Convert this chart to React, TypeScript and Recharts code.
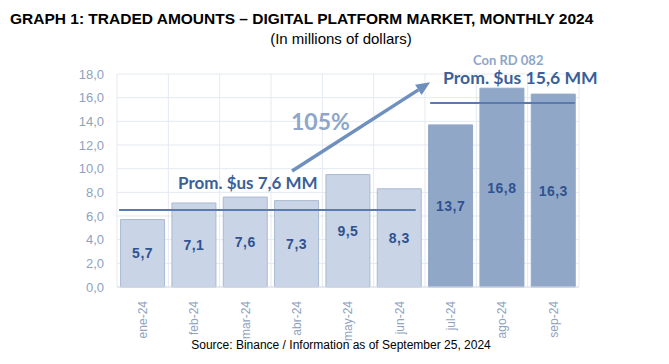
import React from 'react';
import { ComposedChart, Bar, XAxis, YAxis, CartesianGrid, ReferenceLine, LabelList, Cell } from 'recharts';

const months = ['ene-24', 'feb-24', 'mar-24', 'abr-24', 'may-24', 'jun-24', 'jul-24', 'ago-24', 'sep-24'];
const amounts = [5.7, 7.1, 7.6, 7.3, 9.5, 8.3, 13.7, 16.8, 16.3];
const yTicks = [0, 2, 4, 6, 8, 10, 12, 14, 16, 18];
const slotEdges = [0, 1, 2, 3, 4, 5, 6, 7, 8, 9];
// first month under RD 082
const rdStart = 6;
// average lines, as drawn (x in month slots)
const avgBefore = { from: 0.04, to: 5.82, level: 6.5, label: 'Prom. $us 7,6 MM' };
const avgAfter = { from: 6.1, to: 8.92, level: 15.55, label: 'Prom. $us 15,6 MM' };
const growthArrow = { x1: 3.41, y1: 9.8, x2: 6.1, y2: 17.3, label: '105%' };

const data = months.map((m, i) => ({ slot: i + 0.5, month: m, amount: amounts[i] }));
const monthTicks = data.map((d) => d.slot);

const fmt = (v: number) => v.toFixed(1).replace('.', ',');
const font = 'Liberation Sans, Arial, sans-serif';

const MonthTick = (props: any) => {
  const { x, y, payload } = props;
  return (
    <text x={x} y={y + 6} transform={`rotate(-90, ${x}, ${y + 6})`} textAnchor="end" dy="0.35em"
      fill="#8ea2c2" fontSize={12} fontFamily={font}>
      {months[Math.floor(payload.value)]}
    </text>
  );
};

const Arrow = (props: any) => {
  const { x1, y1, x2, y2 } = props;
  const ang = Math.atan2(y2 - y1, x2 - x1);
  const len = 14;
  const w = 6;
  const bx = x2 - len * Math.cos(ang);
  const by = y2 - len * Math.sin(ang);
  const px = -Math.sin(ang) * w;
  const py = Math.cos(ang) * w;
  return (
    <g>
      <line x1={x1} y1={y1} x2={bx} y2={by} stroke="#6f8fbf" strokeWidth={3.5} />
      <polygon points={`${x2},${y2} ${bx + px},${by + py} ${bx - px},${by - py}`} fill="#6f8fbf" />
    </g>
  );
};

const txt: React.CSSProperties = { position: 'absolute', whiteSpace: 'nowrap', lineHeight: 1 };

export default function App() {
  return (
    <div style={{ position: 'absolute', left: 0, top: 0, width: 669, height: 364, background: '#fff' }}>
      <ComposedChart width={669} height={364} data={data} barCategoryGap="7%"
        margin={{ top: 74, right: 90, left: 67, bottom: 32 }}>
        <CartesianGrid vertical={false} stroke="#e4e9f1" />
        <XAxis dataKey="slot" type="number" domain={[0, 9]} ticks={monthTicks} tick={<MonthTick />}
          tickLine={false} axisLine={{ stroke: '#d8dee8' }} height={45} interval={0} />
        <YAxis domain={[0, 18]} ticks={yTicks} tickFormatter={fmt} axisLine={false} tickLine={false} width={50}
          tick={{ fill: '#8ea2c2', fontSize: 13, fontFamily: font }} tickMargin={7} />
        {slotEdges.map((e) => (
          <ReferenceLine key={e} x={e} stroke="#e4e9f1" />
        ))}
        <Bar dataKey="amount" isAnimationActive={false} strokeWidth={1}>
          {data.map((d, i) => (
            <Cell key={d.month} fill={i >= rdStart ? '#91a7c8' : '#c9d4e6'} stroke={i >= rdStart ? '#91a7c8' : '#a9bad3'} />
          ))}
          <LabelList dataKey="amount" position="center" formatter={(v: any) => fmt(Number(v))}
            style={{ fill: '#2f5290', fontSize: 14, fontWeight: 'bold', fontFamily: font, letterSpacing: 0.5 }} />
        </Bar>
        <ReferenceLine segment={[{ x: avgBefore.from, y: avgBefore.level }, { x: avgBefore.to, y: avgBefore.level }]}
          stroke="#5b7bb0" strokeWidth={2} />
        <ReferenceLine segment={[{ x: avgAfter.from, y: avgAfter.level }, { x: avgAfter.to, y: avgAfter.level }]}
          stroke="#5b7bb0" strokeWidth={2} />
        <ReferenceLine segment={[{ x: growthArrow.x1, y: growthArrow.y1 }, { x: growthArrow.x2, y: growthArrow.y2 }]}
          shape={<Arrow />} />
      </ComposedChart>
      <div style={{ ...txt, left: 10, top: 11, fontFamily: font, fontWeight: 'bold', fontSize: 15.5, color: '#000' }}>
        GRAPH 1: TRADED AMOUNTS – DIGITAL PLATFORM MARKET, MONTHLY 2024
      </div>
      <div style={{ ...txt, left: 0, width: 682, textAlign: 'center', top: 31, fontFamily: font, fontSize: 15, color: '#000' }}>
        (In millions of dollars)
      </div>
      <div style={{ ...txt, left: 0, width: 682, textAlign: 'center', top: 339, fontFamily: font, fontSize: 12, color: '#000' }}>
        Source: Binance / Information as of September 25, 2024
      </div>
      <div style={{ ...txt, left: 291, top: 110, fontFamily: 'Lato, sans-serif', fontWeight: 'bold', fontSize: 23, color: '#8ea6c8' }}>
        {growthArrow.label}
      </div>
      <div style={{ ...txt, left: 178, top: 174, fontFamily: 'Lato, sans-serif', fontWeight: 'bold', fontSize: 17, color: '#3b5f99' }}>
        {avgBefore.label}
      </div>
      <div style={{ ...txt, left: 473, top: 54, fontFamily: 'Lato, sans-serif', fontWeight: 'bold', fontSize: 13, color: '#8ea6c8' }}>
        Con RD 082
      </div>
      <div style={{ ...txt, left: 443, top: 69, fontFamily: 'Lato, sans-serif', fontWeight: 'bold', fontSize: 17.6, color: '#3b5f99' }}>
        {avgAfter.label}
      </div>
    </div>
  );
}
